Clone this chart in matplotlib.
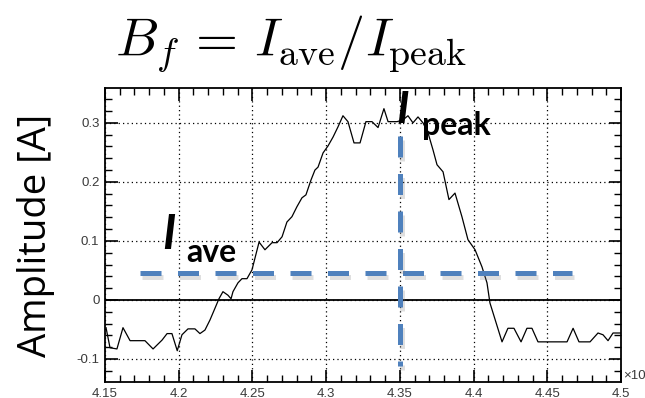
import matplotlib
matplotlib.use("Agg")
import matplotlib.pyplot as plt
import matplotlib.patheffects as pe
from matplotlib.ticker import MultipleLocator

# Sampled current waveform (time in units of the x10 axis factor, amplitude in A)
time = [4.1507, 4.1534, 4.1581, 4.1622, 4.1670, 4.1771, 4.1826, 4.1887, 4.1921,
        4.1954, 4.1990, 4.2022, 4.2063, 4.2110, 4.2144, 4.2178, 4.2212, 4.2246,
        4.2273, 4.2300, 4.2334, 4.2355, 4.2368, 4.2402, 4.2429, 4.2463, 4.2497,
        4.2545, 4.2585, 4.2633, 4.2667, 4.2701, 4.2734, 4.2768, 4.2802, 4.2836,
        4.2863, 4.2897, 4.2924, 4.2945, 4.2979, 4.3013, 4.3047, 4.3080, 4.3114,
        4.3148, 4.3189, 4.3230, 4.3270, 4.3311, 4.3352, 4.3392, 4.3420, 4.3481,
        4.3521, 4.3555, 4.3589, 4.3623, 4.3657, 4.3691, 4.3725, 4.3752, 4.3793,
        4.3833, 4.3874, 4.3921, 4.3962, 4.4010, 4.4057, 4.4091, 4.4111, 4.4193,
        4.4233, 4.4274, 4.4322, 4.4362, 4.4396, 4.4437, 4.4634, 4.4675, 4.4715,
        4.4790, 4.4844, 4.4878, 4.4912, 4.4946, 4.5000]
amplitude = [-0.047, -0.081, -0.083, -0.047, -0.069, -0.069, -0.083, -0.068, -0.057,
             -0.057, -0.086, -0.059, -0.049, -0.049, -0.057, -0.051, -0.034, -0.014,
             0.002, 0.014, 0.008, 0.002, 0.014, 0.029, 0.036, 0.036, 0.051,
             0.098, 0.085, 0.097, 0.097, 0.107, 0.132, 0.141, 0.158, 0.173,
             0.178, 0.203, 0.220, 0.225, 0.249, 0.261, 0.276, 0.293, 0.312,
             0.302, 0.266, 0.266, 0.302, 0.302, 0.292, 0.324, 0.302, 0.302,
             0.305, 0.312, 0.300, 0.310, 0.300, 0.283, 0.254, 0.229, 0.217,
             0.170, 0.181, 0.141, 0.102, 0.085, 0.056, 0.029, -0.005, -0.071,
             -0.048, -0.048, -0.071, -0.048, -0.048, -0.071, -0.071, -0.048, -0.071,
             -0.071, -0.056, -0.059, -0.069, -0.056, -0.056]

# Markers for the average and peak current
i_ave = 0.046
t_peak = 4.35
ave_span = [4.1737, 4.4668]
peak_span = [-0.112, 0.278]

x_ticks = [4.15, 4.2, 4.25, 4.3, 4.35, 4.4, 4.45, 4.5]
x_tick_labels = ["4.15", "4.2", "4.25", "4.3", "4.35", "4.4", "4.45", "4.5"]
y_ticks = [-0.1, 0, 0.1, 0.2, 0.3]
y_tick_labels = ["-0.1", "0", "0.1", "0.2", "0.3"]

plt.rcParams["mathtext.fontset"] = "cm"
tick_font = ["Liberation Sans Narrow", "Liberation Sans", "DejaVu Sans"]

fig = plt.figure(figsize=(6.45, 3.98), dpi=100)
ax = fig.add_axes([105 / 645, 1 - 382 / 398, 516 / 645, 294 / 398])

ax.set_xlim(4.15, 4.5)
ax.set_ylim(-0.139, 0.359)

ax.set_xticks(x_ticks)
ax.set_xticklabels(x_tick_labels, fontfamily=tick_font, fontsize=9.5, color="#3a3a3a")
ax.set_yticks(y_ticks)
ax.set_yticklabels(y_tick_labels, fontfamily=tick_font, fontsize=9.5, color="#3a3a3a")
ax.xaxis.set_minor_locator(MultipleLocator(0.01))
ax.yaxis.set_minor_locator(MultipleLocator(0.02))
ax.tick_params(which="both", direction="in", top=True, right=True, color="black")
ax.tick_params(which="major", length=9, width=1.2, pad=4)
ax.tick_params(which="minor", length=5, width=1.0)
for s in ax.spines.values():
    s.set_linewidth(1.3)

ax.grid(True, which="major", linestyle=(0, (1, 2.5)), color="black", linewidth=0.9)
ax.axhline(0, color="black", linewidth=1.3, zorder=2)

ax.plot(time, amplitude, color="black", linewidth=0.9, zorder=3)

shadow = [pe.SimpleLineShadow(offset=(1.5, -3), shadow_color="gray", alpha=0.25),
          pe.Normal()]
ax.plot(ave_span, [i_ave, i_ave], color="#4F81BD", linewidth=3.6,
        linestyle=(0, (4.2, 3.3)), dash_capstyle="butt", path_effects=shadow,
        zorder=4, clip_on=False)
ax.plot([t_peak, t_peak], peak_span[::-1], color="#4F81BD", linewidth=3.6,
        linestyle=(0, (4.2, 3.3)), dash_capstyle="butt", path_effects=shadow,
        zorder=4, clip_on=False)

# Labels for the two currents
label_font = ["Lato", "Open Sans", "DejaVu Sans"]
fig.text(162 / 645, 1 - 249 / 398, "I", fontfamily=label_font, fontsize=34,
         fontweight="bold", fontstyle="italic", ha="left", va="baseline")
fig.text(186 / 645, 1 - 262 / 398, "ave", fontfamily=label_font, fontsize=23,
         fontweight="bold", ha="left", va="baseline")
fig.text(396 / 645, 1 - 123 / 398, "I", fontfamily=label_font, fontsize=32,
         fontweight="bold", fontstyle="italic", ha="left", va="baseline")
fig.text(422 / 645, 1 - 135 / 398, "peak", fontfamily=label_font, fontsize=23,
         fontweight="bold", ha="left", va="baseline")

ax.set_ylabel("Amplitude [A]", fontfamily=["Open Sans", "DejaVu Sans"], fontsize=27.5)
ax.yaxis.set_label_coords(-50 / 516, 0.5)

fig.text(291 / 645, 1 - 55 / 398, r"$B_f\,=\,I_{\rm ave}/I_{\rm peak}$", fontsize=39,
         ha="center", va="baseline")
fig.text(623 / 645, 1 - 376 / 398, "×10", fontfamily=tick_font, fontsize=9.5,
         color="#3a3a3a", ha="left", va="center")

fig.savefig("out.png", dpi=100)
